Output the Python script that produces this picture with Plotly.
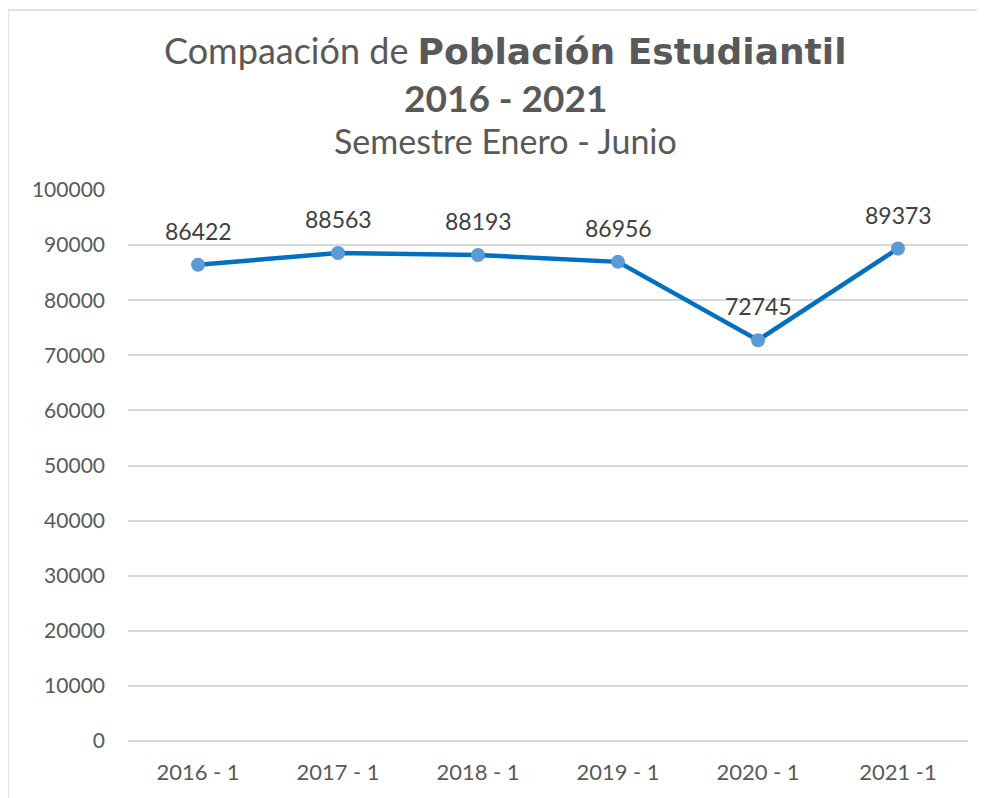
import plotly.graph_objects as go

categories = ["2016 - 1", "2017 - 1", "2018 - 1", "2019 - 1", "2020 - 1", "2021 -1"]
values = [86422, 88563, 88193, 86956, 72745, 89373]
y_ticks = [0, 10000, 20000, 30000, 40000, 50000, 60000, 70000, 80000, 90000, 100000]
y_tick_labels = [str(v) for v in y_ticks]

FONT = "Lato, 'Open Sans', sans-serif"

fig = go.Figure()
fig.add_trace(go.Scatter(
    x=categories, y=values, mode="lines+markers",
    line=dict(color="#0070C0", width=4.5),
    marker=dict(color="#5B9BD5", size=14),
    hoverinfo="x+y", showlegend=False,
))

for c, v in zip(categories, values):
    fig.add_annotation(x=c, y=v, xref="x", yref="y", text=str(v), showarrow=False,
                       yshift=34, font=dict(family=FONT, size=23, color="#404040"))

TX = 0.449
fig.add_annotation(xref="paper", yref="paper", x=TX, y=1, xanchor="center", yanchor="middle",
                   yshift=140, showarrow=False,
                   text="Compaación de <span style=\"font-family:'DejaVu Sans';font-weight:bold\">Población Estudiantil</span>",
                   font=dict(family=FONT, size=36, color="#595959"))
fig.add_annotation(xref="paper", yref="paper", x=TX, y=1, xanchor="center", yanchor="middle",
                   yshift=93, showarrow=False, text="<b>2016 - 2021</b>",
                   font=dict(family=FONT, size=37, color="#595959"))
fig.add_annotation(xref="paper", yref="paper", x=TX, y=1, xanchor="center", yanchor="middle",
                   yshift=50, showarrow=False, text="Semestre Enero - Junio",
                   font=dict(family=FONT, size=34, color="#595959"))

fig.add_shape(type="rect", xref="paper", yref="paper", x0=-120/840, x1=1.2, y0=-0.3, y1=1 + 180/551,
              line=dict(color="#D9D9D9", width=1.5))

fig.update_layout(
    width=985, height=798,
    margin=dict(l=120, r=25, t=182, b=65),
    paper_bgcolor="white", plot_bgcolor="white",
    font=dict(family=FONT, color="#595959"),
    xaxis=dict(range=[-0.5, len(categories) - 0.5], showgrid=False, showline=False,
               tickfont=dict(size=22, color="#595959"),
               ticks="", ticklabelstandoff=16, fixedrange=True),
    yaxis=dict(range=[0, 100000], tickvals=y_ticks, ticktext=y_tick_labels,
               showgrid=True, gridcolor="#D9D9D9", gridwidth=1.5,
               zeroline=True, zerolinecolor="#D9D9D9", zerolinewidth=1.5,
               tickfont=dict(size=21, color="#595959"), ticks="", ticklabelstandoff=22,
               showline=False, fixedrange=True),
)

fig.write_html("out.html")
